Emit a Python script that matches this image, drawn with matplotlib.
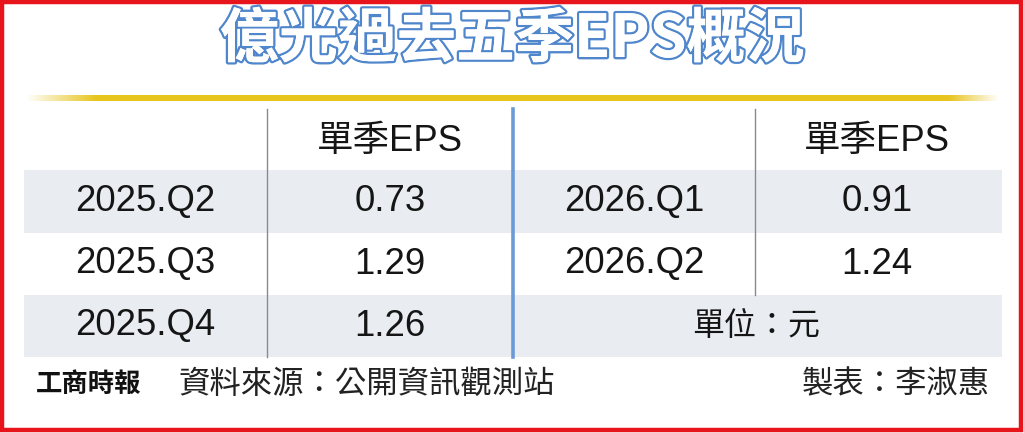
import numpy as np
import matplotlib
matplotlib.use("Agg")
import matplotlib.pyplot as plt
import matplotlib.patheffects as pe
from matplotlib.patches import Rectangle

title = "億光過去五季EPS概況"
header = "單季EPS"
left_quarters = ["2025.Q2", "2025.Q3", "2025.Q4"]
left_eps = [0.73, 1.29, 1.26]
right_quarters = ["2026.Q1", "2026.Q2"]
right_eps = [0.91, 1.24]
unit_note = "單位：元"
logo = "工商時報"
source = "資料來源：公開資訊觀測站"
author = "製表：李淑惠"

W, H = 1024, 433
fig = plt.figure(figsize=(W / 100, H / 100), dpi=100)
ax = fig.add_axes([0, 0, 1, 1])
ax.set_xlim(0, W)
ax.set_ylim(H, 0)
ax.axis("off")

FAM = ["Liberation Sans", "Noto Sans CJK TC", "DejaVu Sans"]
CJK = ["Noto Sans CJK TC", "DejaVu Sans"]

# red frame
ax.add_patch(Rectangle((1.5, 1.5), 1019, 428, fill=False, ec="#e8141c", lw=3.2, zorder=10))

# title
ax.text(512, 40, title, ha="center", va="center", fontsize=42.5, fontweight="black",
        family=CJK, color="white",
        path_effects=[pe.withStroke(linewidth=6, foreground="#ffffff"),
                      pe.withStroke(linewidth=3.4, foreground="#4f86cc"),
                      pe.Normal()])

# gold gradient line
x0, x1 = 25, 1000
n = 400
grad = np.ones((1, n, 4))
gold = np.array([0.91, 0.77, 0.12])
grad[0, :, :3] = gold
xs = np.linspace(x0, x1, n)
alpha = np.clip((xs - x0) / 70, 0, 1) * np.clip((x1 - xs) / 50, 0, 1)
grad[0, :, 3] = alpha
ax.imshow(grad, extent=(x0, x1, 101, 95), aspect="auto", zorder=2, interpolation="bilinear")

# row bands
row_top = [109, 170, 233, 295]
row_bot = [170, 233, 295, 357]
band = "#e9edf2"
for i in (1, 3):
    ax.add_patch(Rectangle((24, row_top[i]), 1002 - 24, row_bot[i] - row_top[i],
                           color=band, lw=0, zorder=1))

# dividers
ax.plot([267, 267], [109, 357], color="#8a8a8a", lw=1.0, zorder=3)
ax.plot([755, 755], [109, 295], color="#8a8a8a", lw=1.0, zorder=3)
ax.plot([513, 513], [109, 357], color="#6a9bd8", lw=2.6, zorder=3)

cy = [(t + b) / 2 for t, b in zip(row_top, row_bot)]
cy[0] += 2
fs = 26.3
txt = "#151515"
ax.text(390, cy[0], header, ha="center", va="center", fontsize=fs, family=FAM, color=txt)
ax.text(877, cy[0], header, ha="center", va="center", fontsize=fs, family=FAM, color=txt)

for i, (q, v) in enumerate(zip(left_quarters, left_eps)):
    ax.text(145, cy[i + 1], q, ha="center", va="center", fontsize=fs, family=FAM, color=txt)
    ax.text(390, cy[i + 1], f"{v:.2f}", ha="center", va="center", fontsize=fs, family=FAM, color=txt)
for i, (q, v) in enumerate(zip(right_quarters, right_eps)):
    ax.text(634, cy[i + 1], q, ha="center", va="center", fontsize=fs, family=FAM, color=txt)
    ax.text(877, cy[i + 1], f"{v:.2f}", ha="center", va="center", fontsize=fs, family=FAM, color=txt)

ax.text(756, cy[3], unit_note, ha="center", va="center", fontsize=23, family=CJK, color=txt)

# footer
ax.text(36, 384, logo, ha="left", va="center", fontsize=19, fontweight="black", family=CJK, color="#111111")
ax.text(179, 384, source, ha="left", va="center", fontsize=22.6, family=CJK, color="#222222")
ax.text(990, 384, author, ha="right", va="center", fontsize=22.6, family=CJK, color="#222222")

fig.savefig("out.png", dpi=100, facecolor="white")
